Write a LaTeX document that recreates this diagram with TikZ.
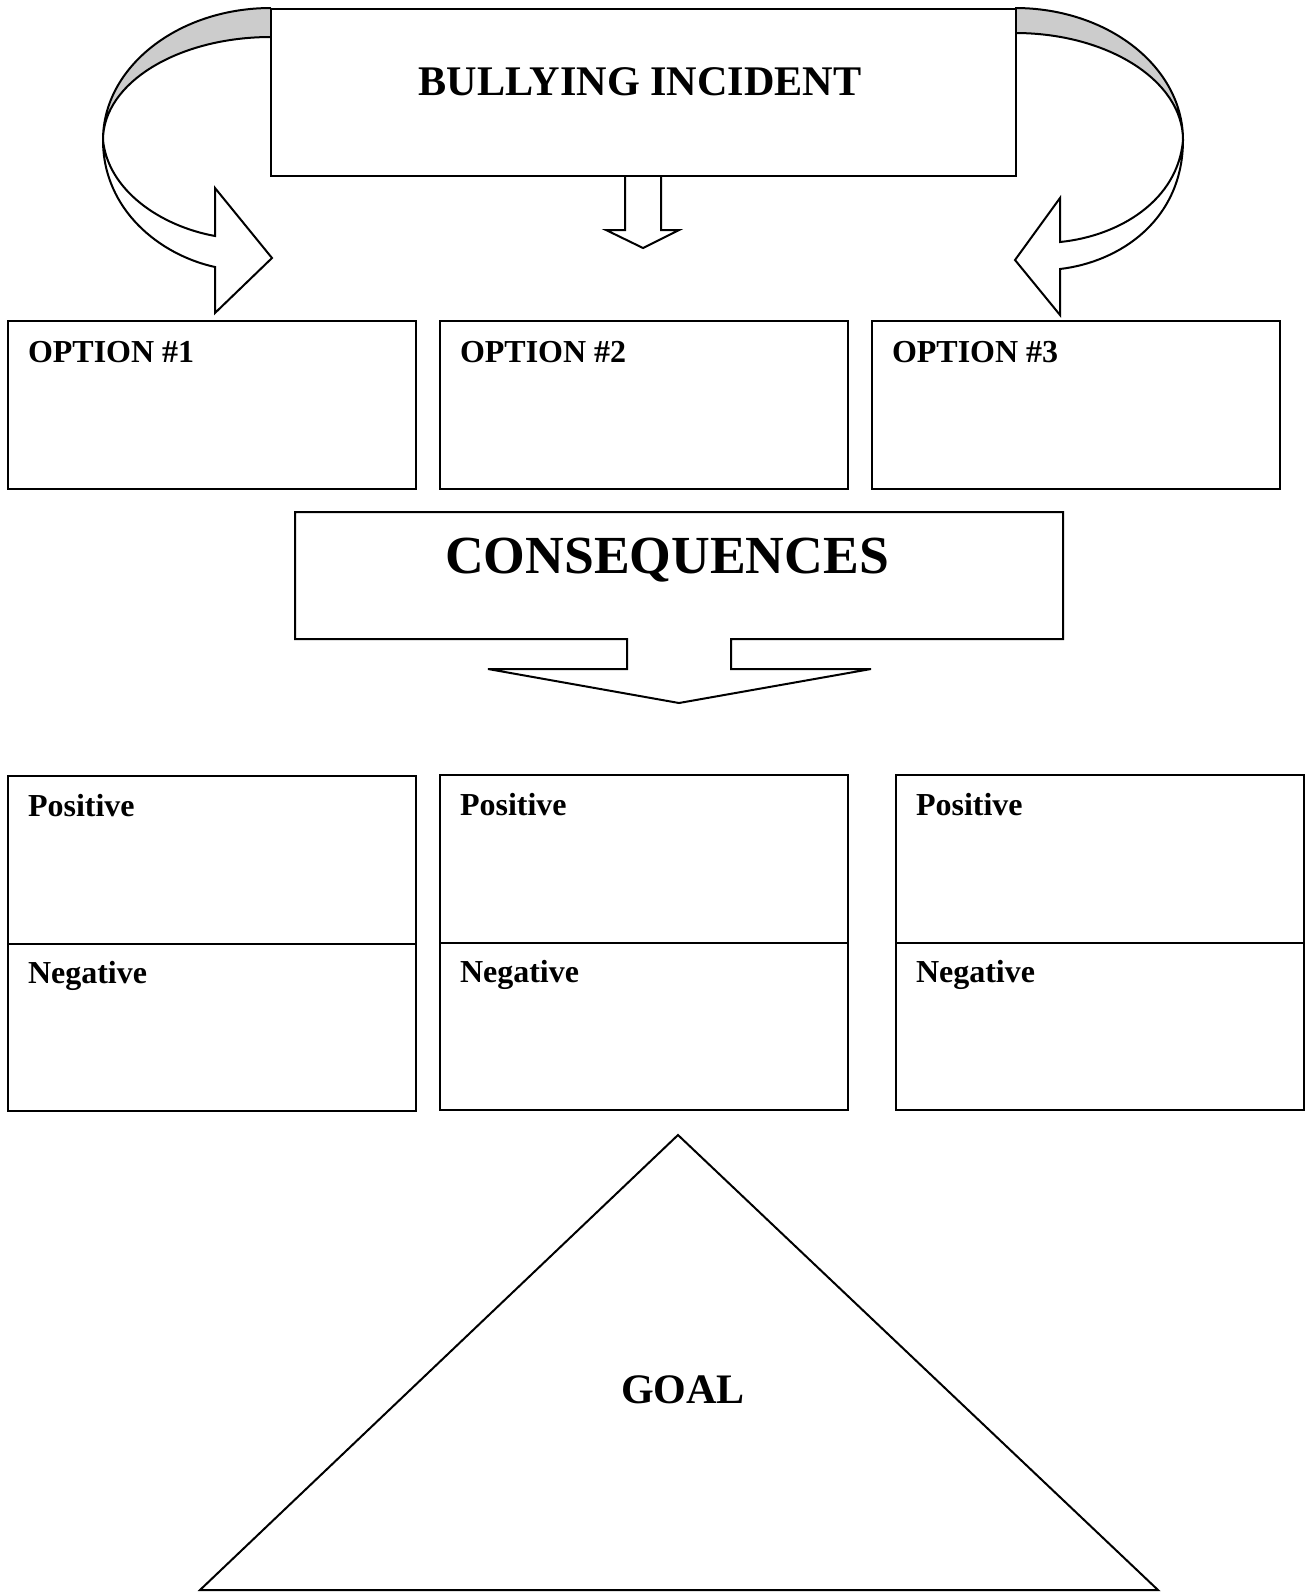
\documentclass[tikz,border=0pt]{standalone}
\usepackage{fontspec}
\setmainfont{Liberation Serif}
\usepackage{tikz}
\usetikzlibrary{positioning}
\definecolor{bandgray}{gray}{0.8}

\begin{document}
\begin{tikzpicture}[x=0.5pt, y=-0.5pt, line width=1pt,
   box/.style={draw, fill=white, inner sep=0pt, anchor=north west},
   band/.style={draw, fill=bandgray},
   lbl/.style={inner sep=0pt, font=\bfseries\fontsize{16}{19}\selectfont}]
   \useasboundingbox (0,0) rectangle (1309,1596);
   % curved arrows round the incident box
   \filldraw[band] (271,8) .. controls (178,8) and (103,67) .. (103,140) .. controls (103,83) and (178,37) .. (271,37);
   \filldraw[fill=white] (103,140) .. controls (108,190) and (160,226) .. (215,236) -- (215,188) -- (272,258)
        -- (215,313) -- (215,267) .. controls (160,255) and (103,210) .. (103,140) -- cycle;
   \filldraw[band] (1015,8) .. controls (1108,8) and (1183,67) .. (1183,140) .. controls (1183,81) and (1108,33) .. (1015,33);
   \filldraw[fill=white] (1183,140) .. controls (1178,200) and (1120,236) .. (1060,242) -- (1060,198) -- (1015,260)
        -- (1060,315) -- (1060,269) .. controls (1120,262) and (1183,220) .. (1183,140) -- cycle;
   \filldraw[fill=white] (625,175) -- (625,230) -- (606,230) -- (643,248) -- (679,230) -- (661,230) -- (661,175);
   \node[box, minimum width=372.5pt, minimum height=83.5pt] (incident) at (270,8) {};
   \node[inner sep=0pt, anchor=base, font=\bfseries\fontsize{21.1}{25}\selectfont] (incidenttxt) at (640,95) {BULLYING INCIDENT};
   % options
   \foreach \x/\n in {7/1,439/2,871/3}{
     \node[box, minimum width=204pt, minimum height=84pt] (opt\n) at (\x,320) {};
     \node[lbl, anchor=base west] (opt\n txt) at (\x+20,362) {OPTION \#\n};
   }
   % consequences
   \filldraw[fill=white] (295,512) -- (1063,512) -- (1063,639) -- (731,639) -- (731,669) -- (871,669) -- (679,703)
        -- (488,669) -- (627,669) -- (627,639) -- (295,639) -- cycle;
   \node[inner sep=0pt, anchor=base, font=\bfseries\fontsize{26.8}{31}\selectfont] (constxt) at (667,573) {CONSEQUENCES};
   \foreach \x/\y/\n in {7/775/1,439/774/2,895/774/3}{
     \node[box, minimum width=204pt, minimum height=84pt] (pos\n) at (\x,\y) {};
     \node[box, minimum width=204pt, minimum height=83.5pt] (neg\n) at (\x,\y+168) {};
     \node[lbl, anchor=base west] (pos\n txt) at (\x+20,\y+41) {Positive};
     \node[lbl, anchor=base west] (neg\n txt) at (\x+20,\y+208) {Negative};
   }
   % goal
   \draw (678,1135) -- (1158,1590) -- (200,1590) -- cycle;
   \node[inner sep=0pt, anchor=base, font=\bfseries\fontsize{21}{25}\selectfont] (goal) at (683,1403) {GOAL};
\end{tikzpicture}
\end{document}
